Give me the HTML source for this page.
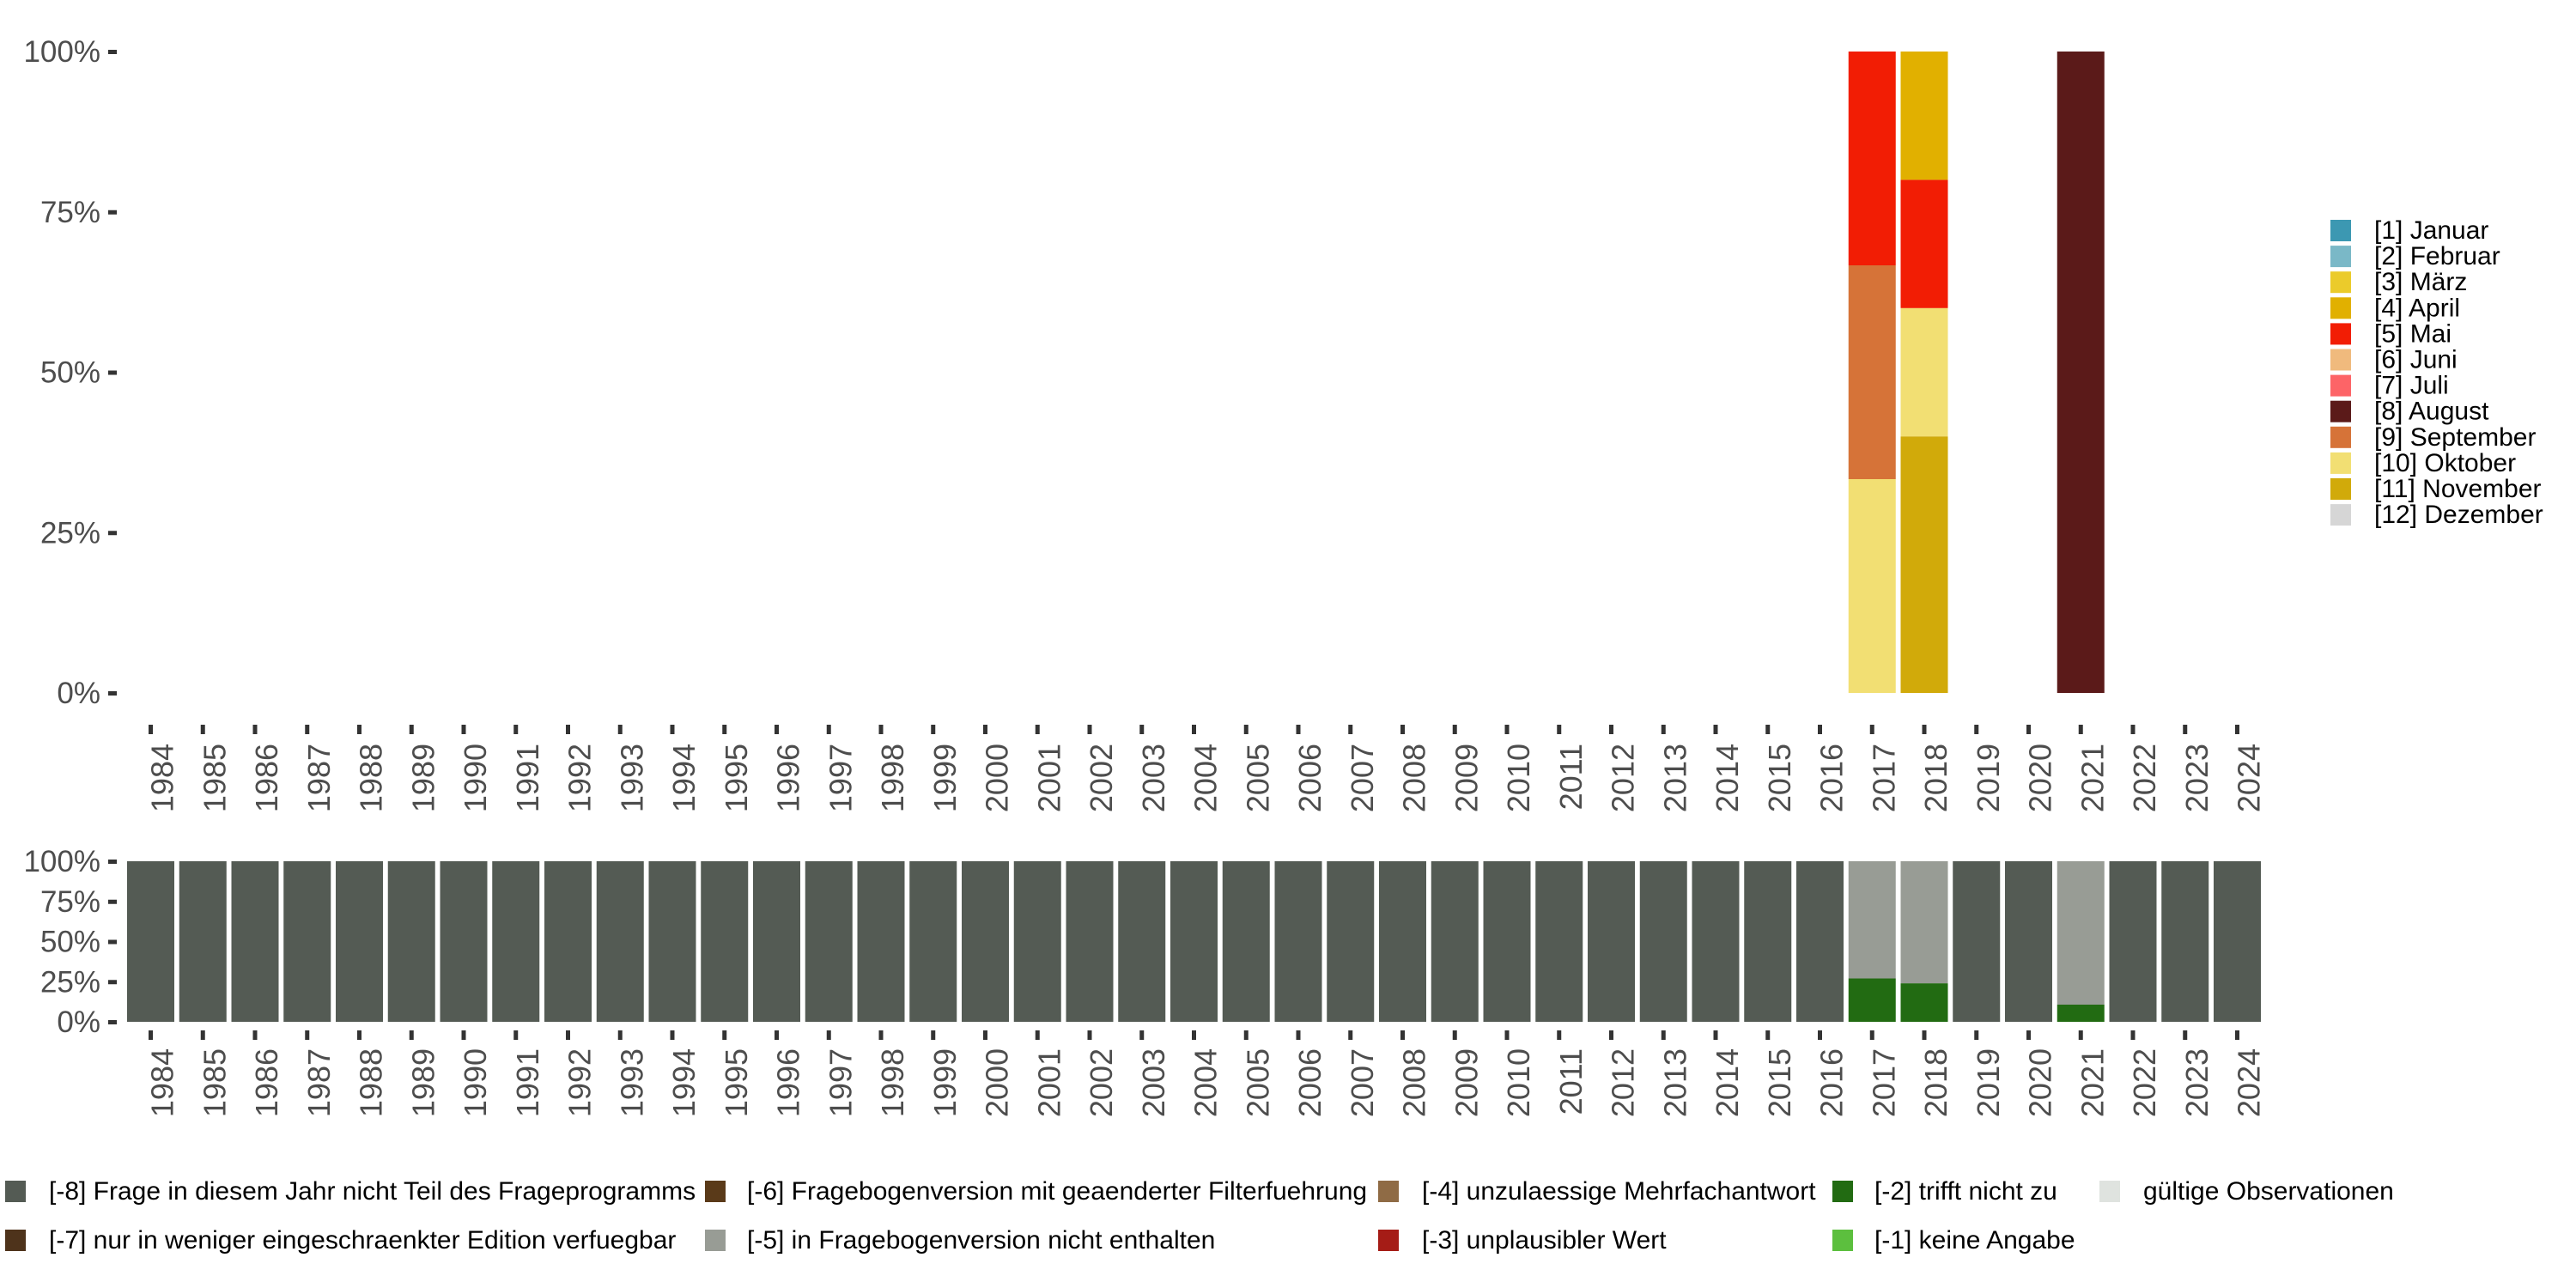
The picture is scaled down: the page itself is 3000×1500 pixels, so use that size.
<!DOCTYPE html>
<html><head><meta charset="utf-8"><style>
html,body{margin:0;padding:0;background:#fff;width:3000px;height:1500px;overflow:hidden}
svg{display:block}
text{font-family:"Liberation Sans","DejaVu Sans",sans-serif}
</style></head><body>
<svg id="s" width="3000" height="1500" xmlns="http://www.w3.org/2000/svg"></svg>
<script>
var s='';
function r(x,y,w,h,c){s+='<rect x="'+x+'" y="'+y+'" width="'+w+'" height="'+h+'" fill="'+c+'"/>';}
function t(x,y,str,a,size,col,extra){s+='<text x="'+x+'" y="'+y+'" font-size="'+size+'" fill="'+col+'" text-anchor="'+a+'" '+(extra||'')+'>'+str+'</text>';}
// Top panel
var T0=60,T1=807,TH=T1-T0;
['100%','75%','50%','25%','0%'].forEach(function(l,i){var y=T0+TH*i/4;t(117,y+12,l,'end',35,'#4d4d4d');r(126,y-2,10,5,'#333');});
function cx(i){return 175.5+60.75*i;}
function stack(i,segs,top,h){var y=top+h;segs.forEach(function(sg){var hh=h*sg[0];y-=hh;r(cx(i)-27.5,y,55,hh,sg[1]);});}
stack(33,[[1/3,'#f2df73'],[1/3,'#d67338'],[1/3,'#f21d04']],T0,TH);
stack(34,[[0.4,'#d1aa0a'],[0.2,'#f2df73'],[0.2,'#f21d04'],[0.2,'#e1b000']],T0,TH);
stack(37,[[1,'#5b1a19']],T0,TH);
for(var i=0;i<41;i++){var c=cx(i);r(c-2.5,844,5,11,'#333');
 s+='<text transform="translate('+(c+26)+',866) rotate(-90)" font-size="36" fill="#4d4d4d" text-anchor="end">'+(1984+i)+'</text>';}
// Right legend
var lg=[['[1] Januar','#3c98b2'],['[2] Februar','#7ab8c7'],['[3] März','#ebcb2b'],['[4] April','#e1b000'],['[5] Mai','#f21d04'],['[6] Juni','#f0ba7d'],['[7] Juli','#fd6467'],['[8] August','#5b1a19'],['[9] September','#d67338'],['[10] Oktober','#f2df73'],['[11] November','#d1aa0a'],['[12] Dezember','#d6d6d6']];
lg.forEach(function(l,i){var y=256+30.1*i;r(2714,y,24,25,l[1]);t(2765,y+22,l[0],'start',30,'#000');});
// Bottom panel
var B0=1003,B1=1190,BH=B1-B0;
['100%','75%','50%','25%','0%'].forEach(function(l,i){var y=B0+BH*i/4;t(117,y+12,l,'end',35,'#4d4d4d');r(126,y-2,10,5,'#333');});
for(var i=0;i<41;i++){var g=0;if(i==33)g=0.27;if(i==34)g=0.24;if(i==37)g=0.107;
 if(g>0)stack(i,[[g,'#226b12'],[1-g,'#989c95']],B0,BH);else stack(i,[[1,'#545b54']],B0,BH);
 var c=cx(i);r(c-2.5,1200,5,11,'#333');
 s+='<text transform="translate('+(c+26)+',1221) rotate(-90)" font-size="36" fill="#4d4d4d" text-anchor="end">'+(1984+i)+'</text>';}
// Bottom legend
var bl=[[6,57,1375,'[-8] Frage in diesem Jahr nicht Teil des Frageprogramms','#545b54'],
[6,57,1432,'[-7] nur in weniger eingeschraenkter Edition verfuegbar','#4e331b'],
[821,870,1375,'[-6] Fragebogenversion mit geaenderter Filterfuehrung','#5a3a19'],
[821,870,1432,'[-5] in Fragebogenversion nicht enthalten','#989c95'],
[1605,1656,1375,'[-4] unzulaessige Mehrfachantwort','#8f6b45'],
[1605,1656,1432,'[-3] unplausibler Wert','#a51c16'],
[2134,2183,1375,'[-2] trifft nicht zu','#226b12'],
[2134,2183,1432,'[-1] keine Angabe','#5cbf3e'],
[2445,2496,1375,'gültige Observationen','#dfe3df']];
bl.forEach(function(b){r(b[0],b[2],24,25,b[4]);t(b[1],b[2]+22,b[3],'start',30,'#000');});
document.getElementById('s').innerHTML=s;
</script>
</body></html>
